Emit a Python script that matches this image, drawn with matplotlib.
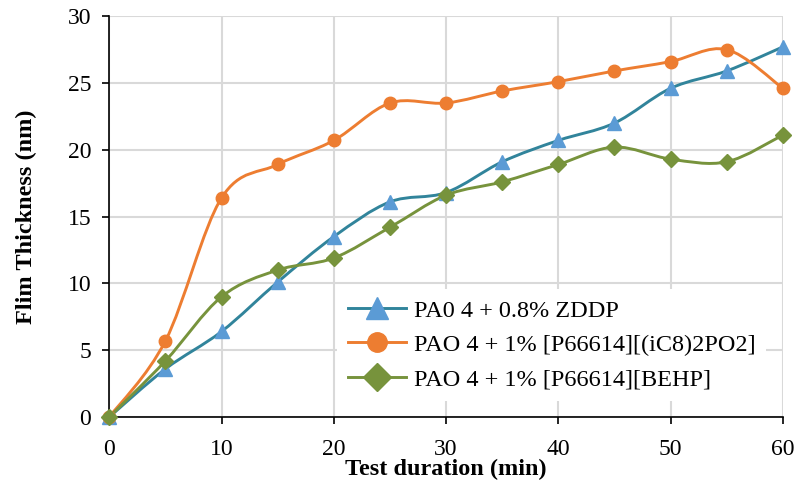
import numpy as np
import matplotlib
matplotlib.use("Agg")
import matplotlib.pyplot as plt
from matplotlib.path import Path
from matplotlib.patches import PathPatch
from matplotlib.lines import Line2D

plt.rcParams['font.family'] = ['Liberation Serif', 'DejaVu Serif']

minutes = [0, 5, 10, 15, 20, 25, 30, 35, 40, 45, 50, 55, 60]
zddp = [0, 3.6, 6.4, 10.1, 13.5, 16.1, 16.8, 19.1, 20.7, 22.0, 24.6, 25.9, 27.7]
ic8 = [0, 5.7, 16.4, 18.9, 20.7, 23.5, 23.5, 24.4, 25.1, 25.9, 26.6, 27.5, 24.6]
behp = [0, 4.2, 9.0, 11.0, 11.9, 14.2, 16.6, 17.6, 18.9, 20.2, 19.3, 19.1, 21.1]

labels = ['PA0 4 + 0.8% ZDDP',
          'PAO 4 + 1% [P66614][(iC8)2PO2]',
          'PAO 4 + 1% [P66614][BEHP]']


def smooth_path(x, y):
    # Excel-style smoothed line: cubic bezier with catmull-rom control points
    x = np.asarray(x, float)
    y = np.asarray(y, float)
    verts = [(x[0], y[0])]
    codes = [Path.MOVETO]
    n = len(x)
    for i in range(n - 1):
        p0 = np.array([x[max(i - 1, 0)], y[max(i - 1, 0)]])
        p1 = np.array([x[i], y[i]])
        p2 = np.array([x[i + 1], y[i + 1]])
        p3 = np.array([x[min(i + 2, n - 1)], y[min(i + 2, n - 1)]])
        c1 = p1 + (p2 - p0) / 6
        c2 = p2 - (p3 - p1) / 6
        verts += [tuple(c1), tuple(c2), tuple(p2)]
        codes += [Path.CURVE4] * 3
    return Path(verts, codes)


fig = plt.figure(figsize=(7.98, 4.9), dpi=100)
ax = fig.add_axes([0.137, 0.149, 0.844, 0.818])

# values, line colour, marker colour, marker, size in plot, size in legend
series = [
    (zddp, '#31849B', '#5B9BD5', '^', 10, 16),
    (ic8, '#ED7D31', '#ED7D31', 'o', 9, 14),
    (behp, '#77933C', '#77933C', 'D', 8, 14),
]
handles = []
for (vals, lc, mc, mk, ms, lms), lab in zip(series, labels):
    ax.add_patch(PathPatch(smooth_path(minutes, vals), facecolor='none',
                           edgecolor=lc, lw=2.1, zorder=3))
    ax.plot(minutes, vals, linestyle='none', marker=mk, color=mc,
            markersize=ms, zorder=4, clip_on=False)
    handles.append(Line2D([], [], color=lc, lw=2.1, marker=mk,
                          markerfacecolor=mc, markeredgecolor=mc,
                          markersize=lms))

ax.set_xlim(0, 60)
ax.set_ylim(0, 30)
ax.set_xticks(range(0, 61, 10))
ax.set_yticks(range(0, 31, 5))
ax.grid(True, color='#D9D9D9', lw=1.5)
ax.set_axisbelow(True)
for s in ['top', 'right']:
    ax.spines[s].set_visible(False)
for s in ['left', 'bottom']:
    ax.spines[s].set_color('black')
    ax.spines[s].set_linewidth(1.2)
ax.tick_params(labelsize=17, length=5, width=1.2, direction='out')
ax.tick_params(axis='x', pad=11)
ax.tick_params(axis='y', pad=8)

ax.set_xlabel('Test duration (min)', fontsize=17.5, fontweight='bold', labelpad=-1)
ax.set_ylabel('Flim Thickness (nm)', fontsize=17.5, fontweight='bold', labelpad=22)

leg = ax.legend(handles, labels, loc='upper left', fontsize=17.5,
                frameon=True, fancybox=False, edgecolor='none',
                facecolor='white', framealpha=1, handlelength=2.4,
                handletextpad=0.3, borderaxespad=0, labelspacing=0.5,
                borderpad=0.45, bbox_to_anchor=(0.338, 0.32))

fig.savefig('out.png', dpi=100)
